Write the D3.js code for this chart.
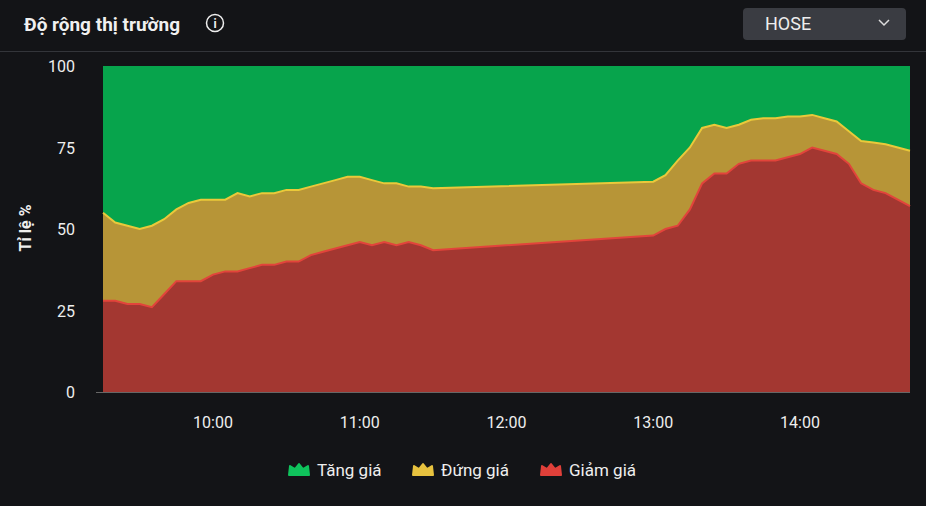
<!DOCTYPE html>
<html><head><meta charset="utf-8">
<script src="https://cdn.jsdelivr.net/npm/d3@7"></script>
<style>body{margin:0;background:#131417;font-family:Roboto,sans-serif}</style>
</head><body><div id="chart"></div>
<script>
// minutes since 9:00 (lunch break 11:30-13:00)
const times = [15,20,25,30,35,40,45,50,55,60,65,70,75,80,85,90,95,100,105,110,115,120,125,130,135,140,145,150,
  240,245,250,255,260,265,270,275,280,285,290,295,300,305,310,315,320,325,330,335,340,345];
// % of stocks down
const down = [28,28,27,27,26,30,34,34,34,36,37,37,38,39,39,40,40,42,43,44,45,46,45,46,45,46,45,43.5,
  48,50,51,56,64,67,67,70,71,71,71,72,73,75,74,73,70,64,62,61,59,57];
// % down + unchanged
const downFlat = [55,52,51,50,51,53,56,58,59,59,59,61,60,61,61,62,62,63,64,65,66,66,65,64,64,63,63,62.5,
  64.5,66.5,71,75,81,82,81,82,83.5,84,84,84.5,84.5,85,84,83,80,77,76.5,76,75,74];
const yTicks = [0,25,50,75,100];
const xTicks = [60,120,180,240,300];
const data = times.map((t,i) => ({t, d: down[i], s: downFlat[i]}));

const W = 926, H = 506;
const svg = d3.select("#chart").append("svg").attr("width", W).attr("height", H);
svg.append("rect").attr("width", W).attr("height", H).attr("fill", "#131417");

svg.append("text").attr("x", 24).attr("y", 31).attr("fill", "#f0f0f0")
  .attr("font-size", 19).attr("font-weight", "bold").text("Độ rộng thị trường");
svg.append("circle").attr("cx", 215).attr("cy", 23).attr("r", 8.5).attr("fill", "none").attr("stroke", "#eee").attr("stroke-width", 1.5);
svg.append("text").attr("x", 215).attr("y", 28).attr("text-anchor", "middle").attr("fill", "#eee")
  .attr("font-size", 12).attr("font-weight", "bold").text("i");
svg.append("rect").attr("x", 743).attr("y", 8).attr("width", 163).attr("height", 32).attr("rx", 4).attr("fill", "#3a3c42");
svg.append("text").attr("x", 765).attr("y", 30).attr("fill", "#eee").attr("font-size", 18).text("HOSE");
svg.append("path").attr("d", "M879,20 L884,25 L889,20").attr("fill", "none").attr("stroke", "#ddd").attr("stroke-width", 1.5);
svg.append("line").attr("x1", 0).attr("x2", W).attr("y1", 51.5).attr("y2", 51.5).attr("stroke", "#33353a");

const x = d3.scaleLinear().domain([15, 345]).range([103, 910]);
const y = d3.scaleLinear().domain([0, 100]).range([392, 66]);

svg.append("rect").attr("x", x(15)).attr("y", y(100)).attr("width", x(345) - x(15)).attr("height", y(0) - y(100)).attr("fill", "#07a44c");
const areaS = d3.area().x(d => x(d.t)).y0(y(0)).y1(d => y(d.s));
const areaD = d3.area().x(d => x(d.t)).y0(y(0)).y1(d => y(d.d));
svg.append("path").datum(data).attr("d", areaS).attr("fill", "#b79537");
svg.append("path").datum(data).attr("d", d3.line().x(d => x(d.t)).y(d => y(d.s))).attr("fill", "none").attr("stroke", "#eac93a").attr("stroke-width", 2);
svg.append("path").datum(data).attr("d", areaD).attr("fill", "#a33731");
svg.append("path").datum(data).attr("d", d3.line().x(d => x(d.t)).y(d => y(d.d))).attr("fill", "none").attr("stroke", "#e2443b").attr("stroke-width", 2);

svg.append("line").attr("x1", 96).attr("x2", 910).attr("y1", 392.5).attr("y2", 392.5).attr("stroke", "#666");

const fmt = m => `${Math.floor(9 + m / 60)}:${String(m % 60).padStart(2, "0")}`;
svg.append("g").selectAll("text").data(xTicks).join("text")
  .attr("x", d => x(d)).attr("y", 428).attr("text-anchor", "middle").attr("fill", "#eee").attr("font-size", 16).text(fmt);
svg.append("g").selectAll("text").data(yTicks).join("text")
  .attr("x", 75).attr("y", d => y(d) + 6).attr("text-anchor", "end").attr("fill", "#eee").attr("font-size", 16).text(d => d);
svg.append("text").attr("transform", "translate(31,228) rotate(-90)").attr("text-anchor", "middle")
  .attr("fill", "#eee").attr("font-size", 16).attr("font-weight", "bold").text("Tỉ lệ %");

const legend = [["Tăng giá", "#0fc35c", 289], ["Đứng giá", "#e7c23f", 413], ["Giảm giá", "#e0403a", 541]];
legend.forEach(([t, c, lx]) => {
  svg.append("path").attr("d", `M${lx},475 L${lx + 1},466 L${lx + 6},469 L${lx + 10},464 L${lx + 14},469 L${lx + 19},466 L${lx + 20},475 Z`)
    .attr("fill", c).attr("stroke", c).attr("stroke-linejoin", "round").attr("stroke-width", 2);
  svg.append("text").attr("x", lx + 28).attr("y", 476).attr("fill", "#eee").attr("font-size", 17).text(t);
});
</script></body></html>
